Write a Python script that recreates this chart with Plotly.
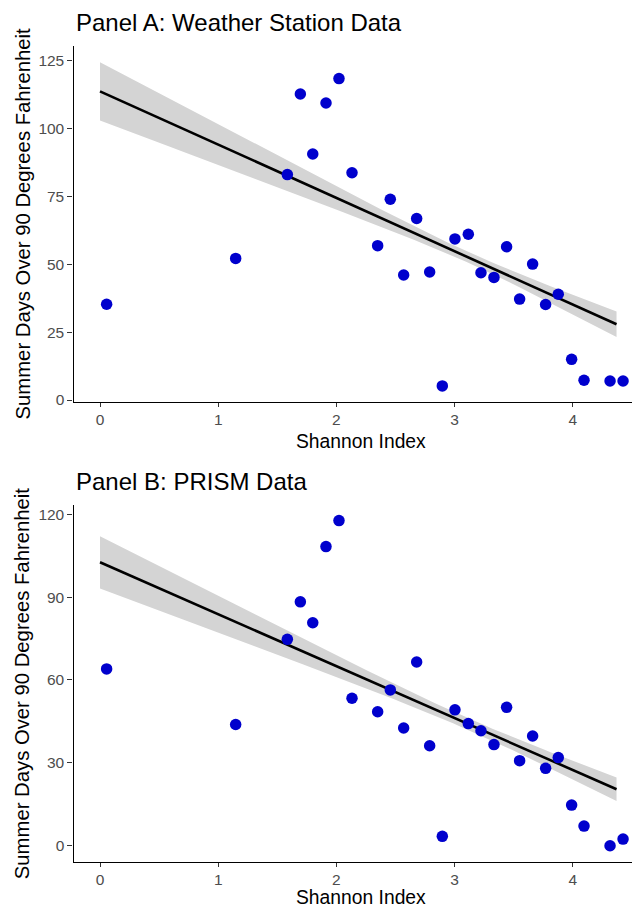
import numpy as np
import plotly.graph_objects as go

# ---- data ----
shannon_index = [0.056, 1.148, 1.585, 1.695, 1.800, 1.912, 2.022, 2.132, 2.349,
                 2.456, 2.569, 2.679, 2.789, 2.896, 3.003, 3.116, 3.223, 3.333,
                 3.440, 3.550, 3.660, 3.770, 3.877, 3.990, 4.095, 4.315, 4.425]
days_weather_station = [35.3, 52.2, 83.1, 112.8, 90.7, 109.5, 118.5, 83.8, 56.9,
                        74.0, 46.1, 66.9, 47.2, 5.2, 59.4, 61.1, 46.9, 45.2,
                        56.5, 37.2, 50.1, 35.2, 39.0, 15.0, 7.3, 7.0, 7.0]
days_prism = [64.0, 43.9, 74.7, 88.3, 80.7, 108.3, 117.7, 53.4, 48.5,
              56.4, 42.6, 66.5, 36.2, 3.4, 49.2, 44.2, 41.6, 36.6,
              50.1, 30.8, 39.7, 28.0, 31.9, 14.7, 7.1, 0.0, 2.4]

# fitted linear model: [panel A, panel B]
fit_intercept = [113.8, 102.6]
fit_slope = [-19.65, -18.8]
fit_x_range = [0.0, 4.37]
# 95% confidence band half-width parameters: min half-width, spread, centre
ci_min_half = [2.0, 2.1]
ci_spread = [3.38, 2.95]
ci_centre_x = [3.12, 3.12]

y_ticks_a = [0, 25, 50, 75, 100, 125]
y_ticks_b = [0, 30, 60, 90, 120]
x_ticks = [0, 1, 2, 3, 4]

titles = ["Panel A: Weather Station Data", "Panel B: PRISM Data"]
x_title = "Shannon Index"
y_title = "Summer Days Over 90 Degrees Fahrenheit"

FONT = "Liberation Sans, Arial, sans-serif"
OFF = 8                      # page body margin of the browser
W, H = 640 - OFF, 908 - OFF  # figure size so that it fills the window

fig = go.Figure()

panels = [("x", "y", days_weather_station, 0), ("x2", "y2", days_prism, 1)]
xs = np.linspace(fit_x_range[0], fit_x_range[1], 80)
for xref, yref, yvals, i in panels:
    yfit = fit_intercept[i] + fit_slope[i] * xs
    half = np.sqrt(ci_min_half[i] ** 2 + (ci_spread[i] * (xs - ci_centre_x[i])) ** 2)
    upper = yfit + half
    lower = yfit - half
    fig.add_trace(go.Scatter(
        x=np.concatenate([xs, xs[::-1]]), y=np.concatenate([upper, lower[::-1]]),
        fill="toself", fillcolor="#D4D4D4", line=dict(width=0), mode="lines",
        xaxis=xref, yaxis=yref, showlegend=False, hoverinfo="skip"))
    fig.add_trace(go.Scatter(
        x=xs, y=yfit, mode="lines", line=dict(color="black", width=2.6),
        xaxis=xref, yaxis=yref, showlegend=False))
    fig.add_trace(go.Scatter(
        x=shannon_index, y=yvals, mode="markers", cliponaxis=False,
        marker=dict(color="#0000CD", size=11.5, line=dict(width=0)),
        xaxis=xref, yaxis=yref, showlegend=False))

def px_x(p):
    return (p - OFF) / W

def px_y(p):
    return (H - (p - OFF)) / H

axis_common = dict(showgrid=False, zeroline=False, showline=True, linecolor="black",
                   linewidth=1.3, ticks="outside", tickwidth=1.2,
                   tickcolor="#333333", automargin=False,
                   tickfont=dict(family=FONT, size=15.5, color="#4D4D4D"))

x_dom = [px_x(73.5), 1.0]
x_range = [-0.2242, 4.5685]

fig.update_layout(
    template="none",
    width=W, height=H, margin=dict(l=0, r=0, t=0, b=0, pad=0, autoexpand=False),
    paper_bgcolor="white", plot_bgcolor="white",
    font=dict(family=FONT),
    xaxis=dict(domain=x_dom, range=x_range, tickvals=x_ticks, anchor="y",
               ticklen=4, **axis_common),
    yaxis=dict(domain=[px_y(401.5), px_y(45.5)], range=[-0.55, 130.7],
               tickvals=y_ticks_a, anchor="x", ticklen=5, **axis_common),
    xaxis2=dict(domain=x_dom, range=x_range, tickvals=x_ticks, anchor="y2",
                ticklen=4, **axis_common),
    yaxis2=dict(domain=[px_y(861.5), px_y(505)], range=[-5.72, 123.35],
                tickvals=y_ticks_b, anchor="x2", ticklen=5, **axis_common),
)

ann = []
for title, ty in zip(titles, [22.7, 481.7]):
    ann.append(dict(text=title, x=px_x(74), y=px_y(ty), xref="paper", yref="paper",
                    xanchor="left", yanchor="middle", showarrow=False,
                    font=dict(family=FONT, size=24, color="black")))
for cy in [223.5, 683.2]:
    ann.append(dict(text=y_title, x=px_x(22), y=px_y(cy), xref="paper", yref="paper",
                    xanchor="center", yanchor="middle", textangle=-90, showarrow=False,
                    font=dict(family=FONT, size=20.3, color="black")))
for ty in [441.5, 897.5]:
    ann.append(dict(text=x_title, x=px_x(361), y=px_y(ty), xref="paper", yref="paper",
                    xanchor="center", yanchor="middle", showarrow=False,
                    font=dict(family=FONT, size=19.3, color="black")))
fig.update_layout(annotations=ann)

fig.write_html("out.html")
